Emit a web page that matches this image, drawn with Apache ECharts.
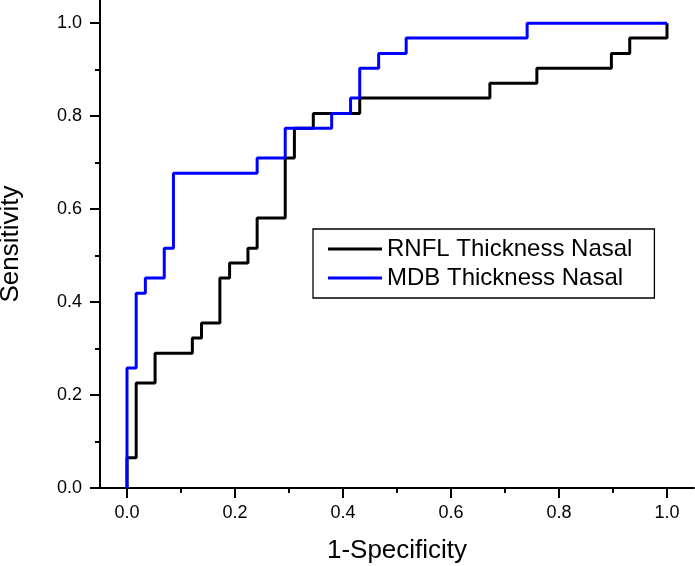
<!DOCTYPE html>
<html>
<head>
<meta charset="utf-8">
<script src="https://cdn.jsdelivr.net/npm/echarts@6/dist/echarts.min.js"></script>
<style>
    html, body { margin: 0; padding: 0; background: #fff; }
    #container { width: 695px; height: 566px; }
</style>
</head>
<body>
<div id="container"></div>
<script>
// ROC corner points (1-specificity, sensitivity)
var rnflFpr = [0, 0, 0.017, 0.017, 0.052, 0.052, 0.121, 0.121, 0.138, 0.138, 0.172, 0.172, 0.190, 0.190, 0.224, 0.224, 0.241, 0.241, 0.293, 0.293, 0.310, 0.310, 0.345, 0.345, 0.431, 0.431, 0.672, 0.672, 0.759, 0.759, 0.897, 0.897, 0.931, 0.931, 1.0, 1.0];
var rnflTpr = [0, 0.065, 0.065, 0.226, 0.226, 0.290, 0.290, 0.323, 0.323, 0.355, 0.355, 0.452, 0.452, 0.484, 0.484, 0.516, 0.516, 0.581, 0.581, 0.710, 0.710, 0.774, 0.774, 0.806, 0.806, 0.839, 0.839, 0.871, 0.871, 0.903, 0.903, 0.935, 0.935, 0.968, 0.968, 1.0];

var mdbFpr = [0, 0, 0.017, 0.017, 0.034, 0.034, 0.069, 0.069, 0.086, 0.086, 0.241, 0.241, 0.293, 0.293, 0.379, 0.379, 0.414, 0.414, 0.431, 0.431, 0.466, 0.466, 0.517, 0.517, 0.741, 0.741, 1.0];
var mdbTpr = [0, 0.258, 0.258, 0.419, 0.419, 0.452, 0.452, 0.516, 0.516, 0.677, 0.677, 0.710, 0.710, 0.774, 0.774, 0.806, 0.806, 0.839, 0.839, 0.903, 0.903, 0.935, 0.935, 0.968, 0.968, 1.0, 1.0];

var seriesNames = ['RNFL Thickness Nasal', 'MDB Thickness Nasal'];
var majorTicks = [0, 0.2, 0.4, 0.6, 0.8, 1.0];
var minorTicks = [0.1, 0.3, 0.5, 0.7, 0.9];

function pairs(xs, ys) {
    var out = [];
    for (var i = 0; i < xs.length; i++) {
        out.push([xs[i], ys[i]]);
    }
    return out;
}

var font = '"Liberation Sans", Arial, sans-serif';
var axisLine = { onZero: false, lineStyle: { color: '#000', width: 2 } };
var tickFmt = function (v) { return v.toFixed(1); };

var chartDom = document.getElementById('container');
var myChart = echarts.init(chartDom, null, { renderer: 'canvas' });

var option = {
    animation: false,
    grid: { left: 100, right: 1, top: 0, bottom: 78, outerBoundsMode: 'none', containLabel: false },
    legend: {
        data: seriesNames,
        orient: 'vertical',
        left: 313,
        top: 229,
        padding: [8, 22, 8, 15],
        itemGap: 5,
        icon: 'rect',
        itemWidth: 54,
        itemHeight: 3,
        borderColor: '#000',
        borderWidth: 1.3,
        textStyle: { fontFamily: font, fontSize: 24, color: '#000' }
    },
    xAxis: [
        {
            type: 'value', min: -0.05, max: 1.05, position: 'bottom',
            name: '1-Specificity', nameLocation: 'middle', nameGap: 50,
            nameTextStyle: { fontFamily: font, fontSize: 26, color: '#000' },
            axisLine: axisLine,
            axisTick: { customValues: majorTicks, length: 10, lineStyle: { color: '#000', width: 2 } },
            axisLabel: { customValues: majorTicks, formatter: tickFmt, fontFamily: font, fontSize: 18, color: '#000', margin: 16 },
            splitLine: { show: false }
        },
        {
            type: 'value', min: -0.05, max: 1.05, position: 'bottom',
            axisLine: { show: false, onZero: false },
            axisTick: { customValues: minorTicks, length: 5, lineStyle: { color: '#000', width: 2 } },
            axisLabel: { show: false },
            splitLine: { show: false }
        }
    ],
    yAxis: [
        {
            type: 'value', min: 0, max: 1.05, position: 'left',
            name: 'Sensitivity', nameLocation: 'middle', nameGap: 76,
            nameTextStyle: { fontFamily: font, fontSize: 26, color: '#000' },
            axisLine: axisLine,
            axisTick: { customValues: majorTicks, length: 10, lineStyle: { color: '#000', width: 2 } },
            axisLabel: { customValues: majorTicks, formatter: tickFmt, fontFamily: font, fontSize: 18, color: '#000', margin: 18 },
            splitLine: { show: false }
        },
        {
            type: 'value', min: 0, max: 1.05, position: 'left',
            axisLine: { show: false, onZero: false },
            axisTick: { customValues: minorTicks, length: 5, lineStyle: { color: '#000', width: 2 } },
            axisLabel: { show: false },
            splitLine: { show: false }
        }
    ],
    series: [
        {
            name: seriesNames[0],
            type: 'line',
            symbol: 'none',
            color: '#000000',
            lineStyle: { width: 3, color: '#000000' },
            data: pairs(rnflFpr, rnflTpr)
        },
        {
            name: seriesNames[1],
            type: 'line',
            symbol: 'none',
            color: '#0000ff',
            lineStyle: { width: 3, color: '#0000ff' },
            data: pairs(mdbFpr, mdbTpr)
        }
    ]
};

if (option && typeof option === 'object') {
    myChart.setOption(option);
}

window.addEventListener('resize', myChart.resize);
</script>
</body>
</html>
